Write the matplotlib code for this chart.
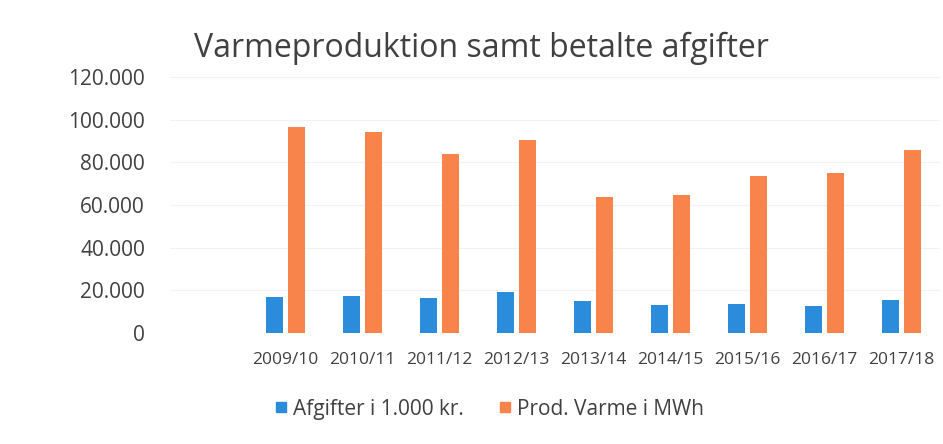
import matplotlib
matplotlib.use("Agg")
import matplotlib.pyplot as plt
from matplotlib.lines import Line2D
import numpy as np

categories = ["2009/10", "2010/11", "2011/12", "2012/13", "2013/14",
              "2014/15", "2015/16", "2016/17", "2017/18"]
afgifter = [16700, 17500, 16400, 19300, 14800, 13300, 13600, 12600, 15300]
varme = [96500, 94300, 83800, 90700, 63800, 64600, 73500, 74800, 85700]
yticks = [0, 20000, 40000, 60000, 80000, 100000, 120000]
ytick_labels = ["0", "20.000", "40.000", "60.000", "80.000", "100.000", "120.000"]

blue = "#2A8CDA"
orange = "#F8834B"
text_color = "#404040"

plt.rcParams['font.family'] = ['Open Sans', 'DejaVu Sans']

fig = plt.figure(figsize=(9.43, 4.44), dpi=100)
ax = fig.add_axes([170/943, 111/444, 770/943, 256/444])

x = np.arange(len(categories))
w = 0.21
off = 0.143
ax.bar(x - off, afgifter, width=w, color=blue, zorder=3)
ax.bar(x + off, varme, width=w, color=orange, zorder=3)

ax.set_xlim(-1.5, len(categories) - 0.5)
ax.set_ylim(0, 120000)
ax.set_yticks(yticks)
ax.set_yticklabels(ytick_labels, fontsize=15, color=text_color)
ax.set_xticks(x)
ax.set_xticklabels(categories, fontsize=12.5, color=text_color)
ax.tick_params(axis='both', length=0)
ax.tick_params(axis='y', pad=18)
ax.tick_params(axis='x', pad=14)
ax.grid(axis='y', color='#f2f2f2', linewidth=0.8, zorder=0)
for s in ax.spines.values():
    s.set_visible(False)

fig.text(481/943, 1 - 57/444, "Varmeproduktion samt betalte afgifter",
         ha='center', va='baseline', fontsize=23, color=text_color)

handles = [Line2D([], [], linestyle='none', marker='s', markersize=6.5,
                  markerfacecolor=blue, markeredgecolor=blue, label="Afgifter i 1.000 kr."),
           Line2D([], [], linestyle='none', marker='s', markersize=6.5,
                  markerfacecolor=orange, markeredgecolor=orange, label="Prod. Varme i MWh")]
fig.legend(handles=handles, loc='center', bbox_to_anchor=(490/943, 1 - 409/444),
           ncol=2, frameon=False, fontsize=15, handlelength=0.5,
           handletextpad=0.35, columnspacing=1.7, labelcolor=text_color)

fig.savefig("out.png", dpi=100, facecolor='white')
